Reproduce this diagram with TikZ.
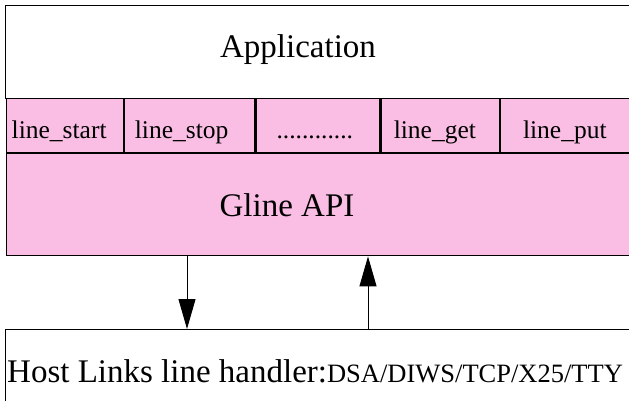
\documentclass[tikz,border=0pt]{standalone}
\usepackage{fontspec}
\setmainfont{Liberation Serif}
\usetikzlibrary{positioning, arrows.meta}
\definecolor{glinepink}{RGB}{250,190,228}

\begin{document}
\begin{tikzpicture}[
		x=1pt, y=-1pt,
		box/.style={draw, line width=1.2pt, anchor=north west, inner sep=0pt},
		cell/.style={box, fill=glinepink, minimum height=54pt},
		call/.style={inner sep=0pt, text height=28pt, text depth=2pt, font=\fontsize{25.5}{30}\selectfont},
		big/.style={font=\fontsize{33}{40}\selectfont},
		link/.style={line width=1pt, -{Triangle[length=30pt, width=17pt]}}
	]
	\useasboundingbox (0,0) rectangle (629,401);
	\clip (0,0) rectangle (629,401);
	% application layer
	\node[box, minimum width=640pt, minimum height=93pt] (app) at (5,5) {};
	\node[big] (apptext) at (298,50) {Application};
	% gline calls
	\node[cell, minimum width=117pt] (start) at (6,98) {};
	\node[cell, minimum width=130pt, right=0pt of start] (stop) {};
	\node[cell, minimum width=124pt, right=0pt of stop] (dots) {};
	\node[cell, minimum width=118pt, right=0pt of dots] (get) {};
	\node[cell, minimum width=145pt, right=0pt of get] (put) {};
	\node[call, right=5.5pt of start.west] (starttext) {line\_start};
	\node[call, right=10.5pt of stop.west] (stoptext) {line\_stop};
	\node[call, right=21pt of dots.west] (dotstext) {............};
	\node[call, right=13pt of get.west] (gettext) {line\_get};
	\node[call, right=23pt of put.west] (puttext) {line\_put};
	\node[box, fill=glinepink, minimum width=640pt, minimum height=102pt,
		below right=0pt and 0pt of start.south west] (gline) {};
	\node[big] (glinetext) at (287,205) {Gline API};
	% host links
	\node[box, minimum width=640pt, minimum height=100pt] (host) at (5,329) {};
	\node[anchor=west, inner sep=0pt, font=\fontsize{33}{40}\selectfont] (hosttext) at (7,371)
		{Host Links line handler:{\fontsize{26.5}{32}\selectfont DSA/DIWS/TCP/X25/TTY}};
	\coordinate (dn) at (187,0);
	\coordinate (up) at (368,0);
	\draw[link] (gline.south -| dn) -- (host.north -| dn);
	\draw[link] (host.north -| up) -- (gline.south -| up);
\end{tikzpicture}
\end{document}
